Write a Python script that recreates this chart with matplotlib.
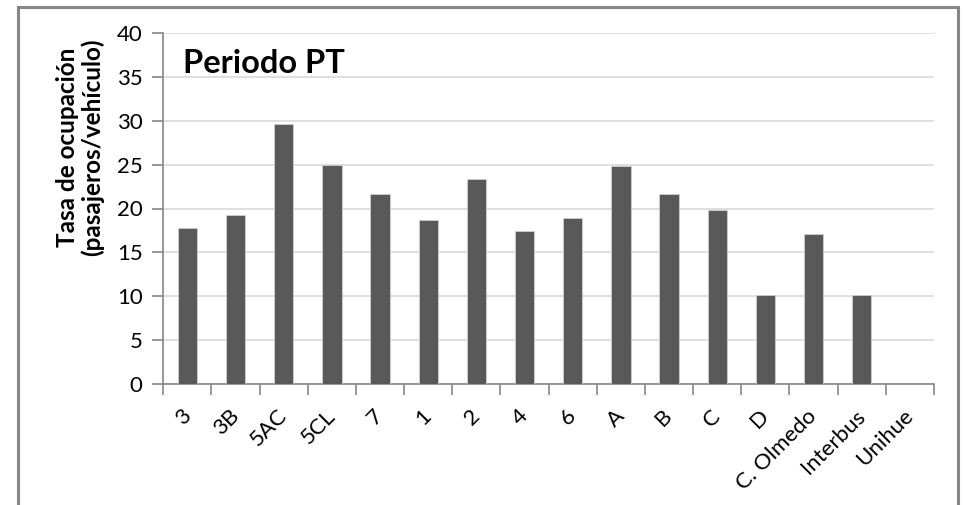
import matplotlib
matplotlib.use("Agg")
import matplotlib.pyplot as plt
from matplotlib.patches import Rectangle
import numpy as np

categories = ["3", "3B", "5AC", "5CL", "7", "1", "2", "4", "6", "A", "B", "C", "D",
              "C. Olmedo", "Interbus", "Unihue"]
ocupacion = [17.8, 19.3, 29.6, 25.0, 21.7, 18.7, 23.4, 17.4, 18.9, 24.9, 21.6, 19.8,
             10.1, 17.1, 10.1, 0.0]
y_ticks = [0, 5, 10, 15, 20, 25, 30, 35, 40]

plt.rcParams["font.family"] = ["Lato", "DejaVu Sans"]

W, H = 963, 505
fig = plt.figure(figsize=(W / 100, H / 100), dpi=100)
fig.patch.set_facecolor("white")

ax = fig.add_axes([163.3 / W, 1 - 383.7 / H, (934 - 163.3) / W, (383.7 - 33.3) / H])

x = np.arange(len(categories))
ax.bar(x, ocupacion, width=0.4, color="#595959", edgecolor="#d0d0d0",
       linewidth=0.6, zorder=3)

axis_gray = "#868686"
ax.set_xlim(-0.5, len(categories) - 0.5)
ax.set_ylim(0, 40)
ax.set_yticks(y_ticks)
ax.set_yticklabels([str(v) for v in y_ticks])
ax.yaxis.grid(True, color="#d9d9d9", linewidth=1.2, zorder=0)
ax.set_axisbelow(True)

# boundary tick marks between categories, labels at category centres
ax.set_xticks(np.arange(-0.5, len(categories), 1.0))
ax.set_xticklabels([])
ax.set_xticks(x, minor=True)
ax.set_xticklabels(categories, minor=True, rotation=45, ha="right", va="center",
                   rotation_mode="anchor", fontsize=16)
ax.tick_params(axis="x", which="minor", length=0, pad=21)
ax.tick_params(axis="x", which="major", length=8, width=1.2, color=axis_gray)
ax.tick_params(axis="y", length=8, width=1.2, color=axis_gray, pad=7, labelsize=16)

for side in ("top", "right"):
    ax.spines[side].set_visible(False)
for side in ("left", "bottom"):
    ax.spines[side].set_color(axis_gray)
    ax.spines[side].set_linewidth(1.2)

ax.text(0.025, 0.915, "Periodo PT", transform=ax.transAxes, fontsize=23.5,
        fontweight="bold", ha="left", va="center")

fig.text(80 / W, 1 - 147 / H, "Tasa de ocupación\n(pasajeros/vehículo)",
         rotation=90, ha="center", va="center", fontsize=17.5, fontweight="bold",
         linespacing=1.05, multialignment="center")

# outer chart frame
fig.patches.append(Rectangle((17.5 / W, -0.1), (957.5 - 17.5) / W, 1.1 - 7 / H,
                             transform=fig.transFigure, fill=False,
                             edgecolor=axis_gray, linewidth=2.2))

fig.savefig("out.png", dpi=100, facecolor="white")
